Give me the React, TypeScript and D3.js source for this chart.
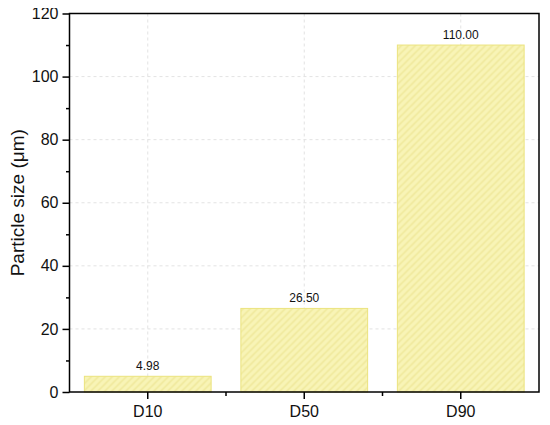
import { useEffect, useRef } from "react";
import * as d3 from "d3";

// Particle size distribution values (µm)
const categories = ["D10", "D50", "D90"];
const sizes = [4.98, 26.5, 110.0];
const yTicks = [0, 20, 40, 60, 80, 100, 120];
const yMinorTicks = [10, 30, 50, 70, 90, 110];

export default function App() {
  const svgRef = useRef<SVGSVGElement | null>(null);

  useEffect(() => {
    const width = 550;
    const height = 425;
    const margin = { top: 13.5, right: 11, bottom: 33, left: 69.5 };
    const svg = d3.select(svgRef.current);
    svg.selectAll("*").remove();

    const innerW = width - margin.left - margin.right;
    const innerH = height - margin.top - margin.bottom;

    // hatch pattern for the bars ("/" stripes)
    const defs = svg.append("defs");
    const pat = defs.append("pattern")
      .attr("id", "hatch")
      .attr("patternUnits", "userSpaceOnUse")
      .attr("width", 7)
      .attr("height", 7);
    pat.append("rect").attr("width", 7).attr("height", 7).attr("fill", "#f8f4b6");
    pat.append("path")
      .attr("d", "M0,7 L7,0 M-1,1 L1,-1 M6,8 L8,6")
      .attr("stroke", "#eee798").attr("stroke-width", 1.4);

    const g = svg.append("g").attr("transform", `translate(${margin.left},${margin.top})`);

    const x = d3.scaleBand().domain(categories).range([0, innerW]).paddingInner(0.19).paddingOuter(0.095);
    const band = d3.scaleBand().domain(categories).range([0, innerW]);
    const y = d3.scaleLinear().domain([0, 120]).range([innerH, 0]);

    // grid
    const grid = g.append("g").attr("stroke", "#dcdcdc").attr("stroke-width", 0.8).attr("stroke-dasharray", "3,3");
    grid.selectAll(".hg").data(yTicks.filter(t => t > 0 && t < 120)).enter().append("line")
      .attr("x1", 0).attr("x2", innerW).attr("y1", d => y(d)).attr("y2", d => y(d));
    grid.selectAll(".vg").data(categories).enter().append("line")
      .attr("y1", 0).attr("y2", innerH)
      .attr("x1", d => (band(d) || 0) + band.bandwidth() / 2)
      .attr("x2", d => (band(d) || 0) + band.bandwidth() / 2);

    // bars
    g.selectAll(".bar").data(categories).enter().append("rect")
      .attr("x", d => x(d) || 0)
      .attr("width", x.bandwidth())
      .attr("y", (d, i) => y(sizes[i]))
      .attr("height", (d, i) => innerH - y(sizes[i]))
      .attr("fill", "url(#hatch)")
      .attr("stroke", "#ebe37e")
      .attr("stroke-width", 1);

    // value labels
    g.selectAll(".val").data(categories).enter().append("text")
      .attr("x", d => (x(d) || 0) + x.bandwidth() / 2)
      .attr("y", (d, i) => y(sizes[i]) - 6)
      .attr("text-anchor", "middle")
      .attr("font-family", "Arial, 'Liberation Sans', sans-serif")
      .attr("font-size", 12)
      .attr("fill", "#111")
      .text((d, i) => sizes[i].toFixed(2));

    // frame
    const axisColor = "#000";
    g.append("rect").attr("width", innerW).attr("height", innerH)
      .attr("fill", "none").attr("stroke", axisColor).attr("stroke-width", 1.5);

    // y axis ticks
    const yAxis = d3.axisLeft(y).tickValues(yTicks).tickSize(7).tickPadding(4).tickFormat(d3.format("d"));
    g.append("g").call(yAxis)
      .call(s => s.select(".domain").remove())
      .call(s => s.selectAll("line").attr("stroke-width", 1.5))
      .call(s => s.selectAll("text").attr("font-size", 16).attr("fill", "#111")
        .attr("font-family", "Arial, 'Liberation Sans', sans-serif"));
    g.append("g").call(d3.axisLeft(y).tickValues(yMinorTicks).tickSize(3.5).tickFormat(() => ""))
      .call(s => s.select(".domain").remove())
      .call(s => s.selectAll("line").attr("stroke-width", 1.5));

    // x axis ticks
    const xAxis = d3.axisBottom(band).tickSize(7).tickPadding(7);
    g.append("g").attr("transform", `translate(0,${innerH})`).call(xAxis)
      .call(s => s.select(".domain").remove())
      .call(s => s.selectAll("line").attr("stroke-width", 1.5))
      .call(s => s.selectAll("text").attr("font-size", 16).attr("fill", "#111")
        .attr("font-family", "Arial, 'Liberation Sans', sans-serif"));
    // minor x ticks at band edges
    const edges = categories.slice(1).map(c => band(c) || 0);
    g.append("g").attr("transform", `translate(0,${innerH})`)
      .selectAll("line").data(edges).enter().append("line")
      .attr("x1", d => d).attr("x2", d => d).attr("y1", 0).attr("y2", 4)
      .attr("stroke", axisColor).attr("stroke-width", 1.5);

    // y title
    g.append("text")
      .attr("transform", `translate(${-46},${innerH / 2}) rotate(-90)`)
      .attr("text-anchor", "middle")
      .attr("font-family", "Arial, 'Liberation Sans', sans-serif")
      .attr("font-size", 19)
      .attr("fill", "#111")
      .text("Particle size (μm)");
  }, []);

  return <svg ref={svgRef} width={550} height={425} style={{ display: "block", margin: "-8px" }} />;
}
